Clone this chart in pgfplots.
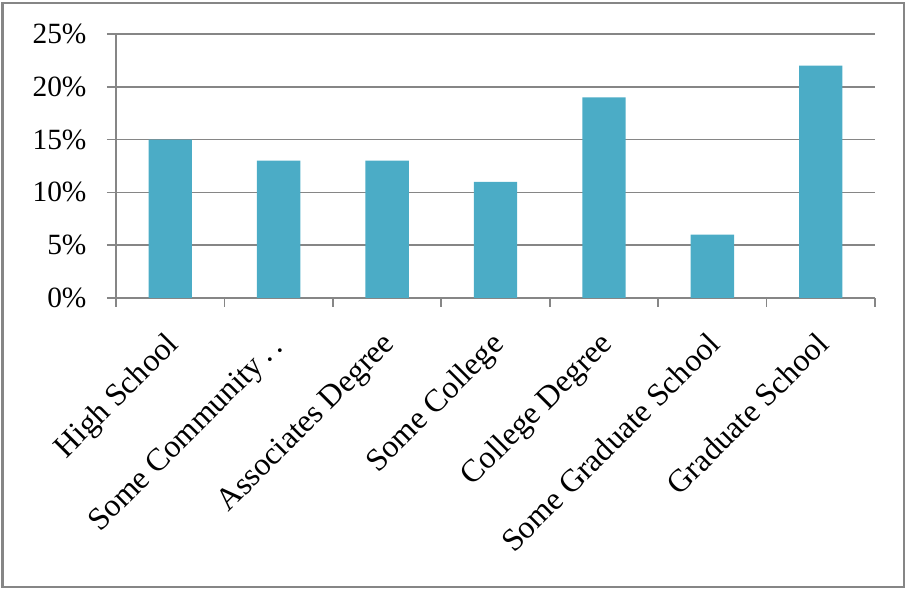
\documentclass[border=0pt]{standalone}
\usepackage{pgfplots}
\pgfplotsset{compat=1.18}
\usepackage{fontspec}
\setmainfont{Liberation Serif}
\definecolor{barc}{HTML}{4BACC6}
\definecolor{gridc}{HTML}{868686}
\begin{document}
\begin{tikzpicture}[x=1bp,y=1bp]
\path[use as bounding box] (0,0) rectangle (906,590);
\draw[gridc, line width=2bp] (2.5,3) rectangle (903.5,587);
\begin{axis}[
  at={(116bp,292bp)}, anchor=south west,
  scale only axis, width=759bp, height=264bp,
  xmin=-0.5, xmax=6.5, ymin=0, ymax=25,
  axis lines*=left,
  axis line style={gridc, line width=1.6bp},
  ytick={0,5,...,25},
  yticklabel={\pgfmathprintnumber{\tick}\%},
  /pgf/number format/assume math mode=true,
  ymajorgrids, grid style={gridc, line width=1.6bp},
  xtick={0,...,6},
  xticklabels={High School, Some Community\,.\,.\,, Associates Degree, Some College, College Degree, Some Graduate School, Graduate School},
  ticklabel style={text=black},
  x tick label style={font=\fontsize{32}{34}\selectfont, anchor=north east, inner sep=0pt, xshift=-6bp, yshift=-23bp, rotate=45},
  y tick label style={font=\fontsize{29.5}{32}\selectfont, xshift=-17bp},
  minor xtick={-0.5,0.5,...,6.5},
  major x tick style={draw=none},
  tick align=outside,
  tick style={gridc, line width=1.6bp},
  major tick length=9bp, minor tick length=9bp,
  clip=false,
]
\addplot[ybar, bar width=0.4, fill=barc, draw=none] coordinates {
(0,15) (1,13) (2,13) (3,11) (4,19) (5,6) (6,22)};
\end{axis}
\end{tikzpicture}
\end{document}
